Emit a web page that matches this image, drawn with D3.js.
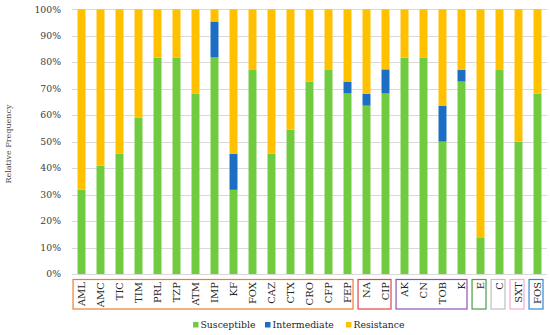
<!DOCTYPE html>
<html>
<head>
<meta charset="utf-8">
<script src="https://cdn.jsdelivr.net/npm/d3@7"></script>
<style>
  body { margin: 0; background: #fff; }
  svg { display: block; font-family: "DejaVu Serif", "Liberation Serif", serif; }
</style>
</head>
<body>
<div id="chart"></div>
<script>
// antibiotics, left to right
const antibiotics = ["AML", "AMC", "TIC", "TIM", "PRL", "TZP", "ATM", "IMP", "KF", "FOX",
  "CAZ", "CTX", "CRO", "CFP", "FEP", "NA", "CIP", "AK", "CN", "TOB", "K", "E", "C", "SXT", "FOS"];

// relative frequency (%)
const susceptible = [31.8, 40.9, 45.5, 59.1, 81.8, 81.8, 68.2, 81.8, 31.8, 77.3,
  45.5, 54.5, 72.7, 77.3, 68.2, 63.6, 68.2, 81.8, 81.8, 50.0, 72.7, 13.6, 77.3, 50.0, 68.2];
const intermediate = [0, 0, 0, 0, 0, 0, 0, 13.6, 13.6, 0,
  0, 0, 0, 0, 4.5, 4.5, 9.1, 0, 0, 13.6, 4.5, 0, 0, 0, 0];
const resistance = [68.2, 59.1, 54.5, 40.9, 18.2, 18.2, 31.8, 4.6, 54.6, 22.7,
  54.5, 45.5, 27.3, 22.7, 27.3, 31.9, 22.7, 18.2, 18.2, 36.4, 22.8, 86.4, 22.7, 50.0, 31.8];

const yTicks = [0, 10, 20, 30, 40, 50, 60, 70, 80, 90, 100];

// antibiotic classes boxed under the axis: first member, size, outline colour
const groupStart = ["AML", "NA", "AK", "E", "C", "SXT", "FOS"];
const groupSize = [15, 2, 4, 1, 1, 1, 1];
const groupColor = ["#ed7d31", "#e0474c", "#8b55b8", "#4c9a4c", "#bfbfbf", "#f7a8d8", "#2f8ad6"];

const seriesKeys = ["Susceptible", "Intermediate", "Resistance"];
const seriesColor = ["#70cc3e", "#1b6ec4", "#ffc000"];

const width = 550, height = 335;
const color = d3.scaleOrdinal().domain(seriesKeys).range(seriesColor);

const svg = d3.select("#chart").append("svg")
  .attr("width", width)
  .attr("height", height);

const x = d3.scaleBand()
  .domain(antibiotics)
  .range([72, 547])
  .paddingInner(0.58)
  .paddingOuter(0.29);

const y = d3.scaleLinear().domain([0, 100]).range([274, 9.3]);

// gridlines
svg.append("g")
  .selectAll("line")
  .data(yTicks)
  .join("line")
  .attr("x1", 72)
  .attr("x2", 547)
  .attr("y1", (d) => Math.round(y(d)) + 0.5)
  .attr("y2", (d) => Math.round(y(d)) + 0.5)
  .attr("stroke", "#d9d9d9")
  .attr("stroke-width", 1);

// y tick labels
svg.append("g")
  .selectAll("text")
  .data(yTicks)
  .join("text")
  .attr("x", 61)
  .attr("y", (d) => y(d))
  .attr("dy", "0.35em")
  .attr("text-anchor", "end")
  .attr("font-size", 9.3)
  .attr("fill", "#404040")
  .text((d) => d + "%");

svg.append("text")
  .attr("transform", "translate(11,144) rotate(-90)")
  .attr("text-anchor", "middle")
  .attr("font-size", 8)
  .attr("fill", "#404040")
  .text("Relative Frequency");

// stacked bars
const rows = antibiotics.map((a, i) => ({
  name: a,
  Susceptible: susceptible[i],
  Intermediate: intermediate[i],
  Resistance: resistance[i],
}));
const stacked = d3.stack().keys(seriesKeys)(rows);

svg.append("g")
  .selectAll("g")
  .data(stacked)
  .join("g")
  .attr("fill", (d) => color(d.key))
  .selectAll("rect")
  .data((d) => d)
  .join("rect")
  .attr("x", (d) => x(d.data.name))
  .attr("width", x.bandwidth())
  .attr("y", (d) => y(Math.min(d[1], 100)))
  .attr("height", (d) => Math.max(0, y(d[0]) - y(Math.min(d[1], 100))));

// group boxes
const step = x.step();
svg.append("g")
  .selectAll("rect")
  .data(groupStart)
  .join("rect")
  .attr("x", (d) => x(d) - step * 0.235)
  .attr("y", 279.5)
  .attr("width", (d, i) => (groupSize[i] - 1) * step + x.bandwidth() + step * 0.315)
  .attr("height", 29.5)
  .attr("fill", "none")
  .attr("stroke", (d, i) => groupColor[i])
  .attr("stroke-width", 1.2);

// x labels, rotated
svg.append("g")
  .selectAll("text")
  .data(antibiotics)
  .join("text")
  .attr("transform", (d) => `translate(${x(d) + x.bandwidth() / 2},282) rotate(-90)`)
  .attr("dy", "0.35em")
  .attr("text-anchor", "end")
  .attr("font-size", 10)
  .attr("fill", "#262626")
  .text((d) => d);

// legend
const legendX = [193, 265, 346];
const legend = svg.append("g")
  .selectAll("g")
  .data(seriesKeys)
  .join("g")
  .attr("transform", (d, i) => `translate(${legendX[i]},325)`);

legend.append("rect")
  .attr("x", 0)
  .attr("y", -3)
  .attr("width", 5.5)
  .attr("height", 5.5)
  .attr("fill", (d) => color(d));

legend.append("text")
  .attr("x", 7.5)
  .attr("y", 0)
  .attr("dy", "0.35em")
  .attr("font-size", 9.3)
  .attr("fill", "#262626")
  .text((d) => d);
</script>
</body>
</html>
